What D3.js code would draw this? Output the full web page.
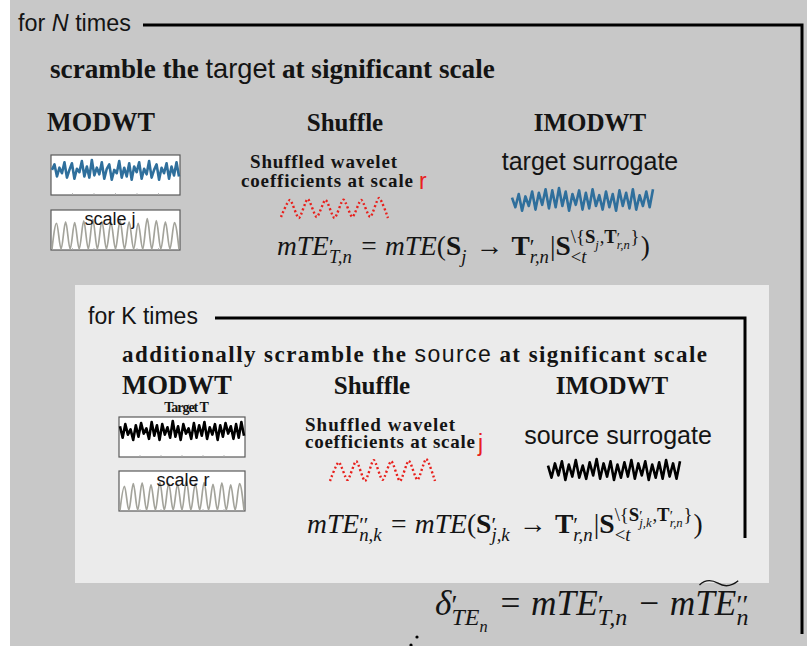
<!DOCTYPE html>
<html>
<head>
<meta charset="utf-8">
<script src="https://cdn.jsdelivr.net/npm/d3@7"></script>
<style>
  html, body { margin: 0; padding: 0; background: #fff; }
  svg { display: block; }
</style>
</head>
<body>
<svg id="chart" width="807" height="646"></svg>
<script>
// ---- signals (values per sample) ----
const targetSeries = [0.1, 0.6, -0.5, 0.3, -0.2, 0.8, -0.6, 0.1, 0.7, -0.7, 0.2, -0.1, 0.9, -0.5, 0.4,
  -0.6, 1.0, -0.4, 0.3, -0.3, 0.8, -0.7, 0.2, 0.6, -0.8, 0.1, -0.2, 0.9, -0.6, 0.3, -0.5, 0.7, -0.8,
  0.4, -0.1, 0.8, -0.7, 0.2, -0.3, 0.9, -0.6, 0.1, 0.6, -0.8, 0.3, -0.2, 0.7, -0.7, 0.4, -0.4, 0.8, -0.5];
const sourceSeries = [0.5, -0.6, 0.7, -0.3, 0.2, -0.8, 0.6, -0.5, 0.8, -0.2, 0.3, -0.7, 0.9, -0.4, 0.6,
  -0.8, 0.7, -0.3, 0.4, -0.6, 1.0, -0.5, 0.5, -0.8, 0.7, -0.2, 0.3, -0.7, 0.8, -0.6, 0.6, -0.4, 0.9,
  -0.7, 0.4, -0.3, 0.7, -0.8, 0.6, -0.5, 0.8, -0.2, 0.5, -0.7, 0.7, -0.6, 0.9, -0.4];
const scaleJPeaks = [0.78, 0.82, 0.80, 0.85, 0.90, 0.84, 0.80, 0.86, 0.82, 0.78, 0.92, 0.86, 0.82, 0.80];
const scaleRPeaks = [0.72, 0.80, 0.82, 0.76, 0.84, 0.80, 0.78, 0.88, 0.80, 0.84, 0.78, 0.82, 0.76, 0.80];
const shuffledR = [0.05, 0.90, 0.00, 0.95, 0.05, 0.90, 0.00, 0.92, 0.05, 0.90, 0.05, 1.00, 0.00];
const shuffledJ = [0.00, 0.85, 0.05, 0.90, 0.00, 0.95, 0.05, 0.90, 0.00, 0.92, 0.05, 1.00, 0.00];
const targetSurrogate = [0.2, -0.6, 0.5, -0.9, 0.3, -0.5, 0.7, -0.8, 0.6, -0.4, 0.9, -0.7, 0.8, -0.6,
  1.0, -0.5, 0.7, -0.9, 0.5, -0.4, 0.8, -0.8, 0.6, -0.7, 0.9, -0.5, 0.4, -0.8, 0.7, -0.6, 0.5, -0.9,
  0.8, -0.5, 0.6, -0.7, 0.9, -0.8, 0.4, -0.5, 0.7, -0.6, 0.9];
const sourceSurrogate = [0.4, -0.7, 0.6, -0.5, 0.8, -0.9, 0.5, -0.6, 0.9, -0.7, 0.4, -0.8, 0.7, -0.5,
  1.0, -0.8, 0.6, -0.6, 0.8, -0.9, 0.5, -0.7, 0.7, -0.6, 0.9, -0.8, 0.6, -0.5, 0.8, -0.9, 0.5, -0.7,
  0.7, -0.8, 0.9, -0.6, 0.6, -0.8, 0.8];

// ---- text ----
const stepLabels = ["MODWT", "Shuffle", "IMODWT"];
const outerLoopLabel = ["for ", "N", " times"];
const innerLoopLabel = "for K times";
const outerHeading = ["scramble the ", "target", " at significant scale"];
const innerHeading = ["additionally scramble the ", "source", " at significant scale"];
const shuffleCaption = ["Shuffled wavelet", "coefficients at scale"];
const surrogateLabels = ["target surrogate", "source surrogate"];
const scaleLabels = ["scale j", "scale r"];

const SERIF = "'Liberation Serif','Times New Roman',serif";
const MATH = "'Liberation Serif','Times New Roman',serif";
const SANS = "'Liberation Sans',Arial,sans-serif";
const INK = "#141414";
const BLUE = "#2f6f9c";
const RED = "#e8201c";
const GREYWAVE = "#a3a39b";

const svg = d3.select("#chart");

// backgrounds
svg.append("rect").attr("width", 807).attr("height", 646).attr("fill", "#fff");
svg.append("rect").attr("x", 10).attr("y", 0).attr("width", 797).attr("height", 646).attr("fill", "#c8c8c8");
svg.append("rect").attr("x", 75).attr("y", 285).attr("width", 694).attr("height", 298).attr("fill", "#ebebeb");

// loop brackets
svg.append("path").attr("d", "M143,25H802V634").attr("fill", "none").attr("stroke", "#000").attr("stroke-width", 3);
svg.append("path").attr("d", "M215,318H745V538").attr("fill", "none").attr("stroke", "#000").attr("stroke-width", 3);

// text with mixed segments; a width is reached through the font size,
// or through the letter spacing when `spread` is set
function label(x, y, segs, o) {
  const t = svg.append("text").attr("x", x).attr("y", y)
    .attr("text-anchor", o.anchor || "start")
    .attr("font-family", o.sans ? SANS : SERIF)
    .attr("font-weight", o.bold ? "bold" : "normal")
    .attr("font-size", o.size)
    .attr("fill", o.fill || INK);
  if (o.spacing) t.attr("letter-spacing", o.spacing);
  segs.forEach(s => {
    const seg = typeof s === "string" ? { t: s } : s;
    const ts = t.append("tspan").text(seg.t);
    if (seg.sans) ts.attr("font-family", SANS).attr("font-weight", "normal");
    if (seg.i) ts.attr("font-style", "italic");
    if (seg.fill) ts.attr("fill", seg.fill);
  });
  if (o.width) {
    if (o.spread) {
      t.attr("textLength", o.width).attr("lengthAdjust", "spacing");
    } else {
      const w = t.node().getComputedTextLength();
      t.attr("font-size", o.size * o.width / w);
    }
  }
  return t;
}

// small framed plot of a signal
function framedPlot(x0, y0, w, h, values, o) {
  const g = svg.append("g");
  g.append("rect").attr("x", x0).attr("y", y0).attr("width", w).attr("height", h)
    .attr("fill", "#fff").attr("stroke", "#5a5a5a").attr("stroke-width", 1.2);
  const tx = d3.scaleLinear().domain([0, 6]).range([x0, x0 + w]);
  d3.range(1, 6).forEach(i => g.append("line")
    .attr("x1", tx(i)).attr("x2", tx(i)).attr("y1", y0 + h).attr("y2", y0 + h - 2)
    .attr("stroke", "#aaa").attr("stroke-width", 0.8));
  const x = d3.scaleLinear().domain([0, values.length - 1]).range([x0 + 1, x0 + w - 1]);
  const y = d3.scaleLinear().domain(o.domain).range(o.range);
  g.append("path")
    .attr("d", d3.line().x((d, i) => x(i)).y(d => y(d)).curve(o.curve || d3.curveLinear)(values))
    .attr("fill", "none").attr("stroke", o.color).attr("stroke-width", o.lw)
    .attr("stroke-linejoin", "round");
  return g;
}

// free-standing signal
function wave(x0, y0, w, h, values, o) {
  const x = d3.scaleLinear().domain([0, values.length - 1]).range([x0, x0 + w]);
  const y = d3.scaleLinear().domain(o.domain).range([y0 + h, y0]);
  const p = svg.append("path")
    .attr("d", d3.line().x((d, i) => x(i)).y(d => y(d)).curve(o.curve || d3.curveLinear)(values))
    .attr("fill", "none").attr("stroke", o.color).attr("stroke-width", o.lw)
    .attr("stroke-linejoin", "round");
  if (o.dash) p.attr("stroke-dasharray", o.dash);
  return p;
}

// alternate troughs and peaks of a scale-level signal
const peakTrain = peaks => [0].concat(...peaks.map(p => [p, 0]));

// ---- simple math typesetting ----
function mathRow(g, x, y, size, items) {
  let cx = x;
  for (const it of items) {
    if (it.sup || it.sub) {
      const s = size * (it.k || 0.68);
      let w1 = 0, w2 = 0;
      if (it.sup) {
        const ps = it.prime ? 0.04 : 0.42;
        const sz = it.prime ? size * 0.78 : s;
        w1 = mathRow(g, cx, y - size * ps, sz, it.sup) - cx;
      }
      if (it.sub) w2 = mathRow(g, cx, y + size * 0.28, s, it.sub) - cx;
      cx += Math.max(w1, w2) + size * 0.04;
    } else if (it.tilde) {
      const a = cx;
      cx = mathRow(g, cx, y, size, it.tilde);
      const w = cx - a, b = y - size * 0.9, hh = size * 0.12;
      g.append("path")
        .attr("d", `M${a + size * 0.12},${b + hh * 0.4} Q${a + w * 0.3},${b - hh * 1.4} ${a + w * 0.55},${b} T${a + w + size * 0.05},${b - hh * 0.6}`)
        .attr("fill", "none").attr("stroke", INK).attr("stroke-width", size * 0.04);
    } else {
      const t = g.append("text").attr("x", cx + (it.l || 0) * size).attr("y", y)
        .attr("font-family", MATH)
        .attr("font-style", it.i ? "italic" : "normal")
        .attr("font-weight", it.b ? "bold" : "normal")
        .attr("font-size", size).attr("fill", INK).text(it.t);
      cx += (it.l || 0) * size + t.node().getComputedTextLength() + (it.r || 0) * size;
    }
  }
  return cx;
}
function mathFit(x, y, size, items, width) {
  const probe = svg.append("g");
  const end = mathRow(probe, x, y, size, items);
  probe.remove();
  const g = svg.append("g");
  mathRow(g, x, y, size * width / (end - x), items);
  return g;
}
const I = t => ({ t, i: true });
const U = t => ({ t });
const B = t => ({ t, b: true });
const OP = t => ({ t, l: 0.3, r: 0.3 });
const P = { t: "′" }, PP = { t: "′′" };

const mteT = [I("mTE"), { sup: [P], sub: [I("T,n")], prime: true }];
const Tprime = [B("T"), { sup: [P], sub: [I("r,n")], prime: true }];
const formula1 = [...mteT, OP("="), I("mTE"), U("("), B("S"), { sub: [I("j")] }, OP("→"), ...Tprime,
  U("|"), B("S"),
  { sup: [U("\\{"), B("S"), { sub: [I("j")] }, U(","), ...Tprime, U("}")], sub: [U("<"), I("t")] },
  U(")")];
const formula2 = [I("mTE"), { sup: [PP], sub: [I("n,k")], prime: true }, OP("="), I("mTE"), U("("),
  B("S"), { sup: [P], sub: [I("j,k")], prime: true }, OP("→"), ...Tprime, U("|"), B("S"),
  { sup: [U("\\{"), B("S"), { sup: [P], sub: [I("j,k")], prime: true }, U(","), ...Tprime, U("}")],
    sub: [U("<"), I("t")] },
  U(")")];
const formula3 = [I("δ"), { sup: [P], sub: [I("TE"), { sub: [I("n")] }], prime: true }, OP("="),
  ...mteT, OP("−"), I("m"), { tilde: [I("TE")] }, { sup: [PP], sub: [I("n")], prime: true }];

// ---- outer loop ----
label(18, 31, [outerLoopLabel[0], { t: outerLoopLabel[1], i: true }, outerLoopLabel[2]], { sans: true, size: 23, width: 113 });
label(50, 78, [outerHeading[0], { t: outerHeading[1], sans: true }, outerHeading[2]], { bold: true, size: 23, width: 445 });
label(47, 131, [stepLabels[0]], { bold: true, size: 25, width: 108 });
label(345, 131, [stepLabels[1]], { bold: true, size: 25, anchor: "middle" });
label(590, 131, [stepLabels[2]], { bold: true, size: 25, anchor: "middle" });

framedPlot(51, 155, 129, 40, targetSeries, { domain: [-1, 1], range: [182, 160], color: BLUE, lw: 2.6 });
framedPlot(51, 210, 129, 40, peakTrain(scaleJPeaks), { domain: [0, 1], range: [249, 216], color: GREYWAVE, lw: 1.7, curve: d3.curveMonotoneX });
label(110, 225, [scaleLabels[0]], { sans: true, size: 18, anchor: "middle" });

label(250, 168, [shuffleCaption[0]], { bold: true, size: 19, width: 147, spread: true });
label(241, 187, [shuffleCaption[1]], { bold: true, size: 19, width: 172, spread: true });
label(419, 189, ["r"], { sans: true, size: 23, fill: RED });
wave(281, 198, 107, 20, shuffledR, { domain: [0, 1], color: RED, lw: 2.4, dash: "2,2.4", curve: d3.curveCardinal.tension(0.3) });

label(590, 170, [surrogateLabels[0]], { sans: true, size: 25, anchor: "middle" });
wave(512, 188, 141, 24, targetSurrogate, { domain: [-1, 1], color: BLUE, lw: 2.6 });

mathFit(277, 255, 20, formula1, 373);

// ---- inner loop ----
label(88, 324, [innerLoopLabel], { sans: true, size: 23, width: 110 });
label(122, 362, [innerHeading[0], { t: innerHeading[1], sans: true }, innerHeading[2]], { bold: true, size: 23, width: 585, spread: true });
label(122, 394, [stepLabels[0]], { bold: true, size: 25, width: 110 });
label(372, 394, [stepLabels[1]], { bold: true, size: 25, anchor: "middle" });
label(612, 394, [stepLabels[2]], { bold: true, size: 25, anchor: "middle" });

label(186, 412, ["Target T"], { bold: true, size: 14, anchor: "middle", spacing: -1 });
framedPlot(119, 417, 126, 40, sourceSeries, { domain: [-1, 1], range: [442, 421], color: "#000", lw: 2.6 });
framedPlot(119, 471, 126, 40, peakTrain(scaleRPeaks), { domain: [0, 1], range: [510, 477], color: GREYWAVE, lw: 1.7, curve: d3.curveMonotoneX });
label(183, 486, [scaleLabels[1]], { sans: true, size: 18, anchor: "middle" });

label(305, 431, [shuffleCaption[0]], { bold: true, size: 19, width: 150, spread: true });
label(305, 448, [shuffleCaption[1]], { bold: true, size: 19, width: 170, spread: true });
label(478, 451, ["j"], { sans: true, size: 23, fill: RED });
wave(330, 459, 105, 22, shuffledJ, { domain: [0, 1], color: RED, lw: 2.4, dash: "2,2.4", curve: d3.curveCardinal.tension(0.3) });

label(618, 444, [surrogateLabels[1]], { sans: true, size: 25, anchor: "middle" });
wave(548, 459, 132, 22, sourceSurrogate, { domain: [-1, 1], color: "#000", lw: 2.6 });

mathFit(307, 533, 20, formula2, 396);

// ---- result ----
mathFit(435, 615, 27, formula3, 315);

// continuation dots
svg.selectAll("circle.more").data([[417, 637], [411, 645]]).join("circle")
  .attr("class", "more").attr("cx", d => d[0]).attr("cy", d => d[1]).attr("r", 1.6).attr("fill", "#000");
</script>
</body>
</html>
